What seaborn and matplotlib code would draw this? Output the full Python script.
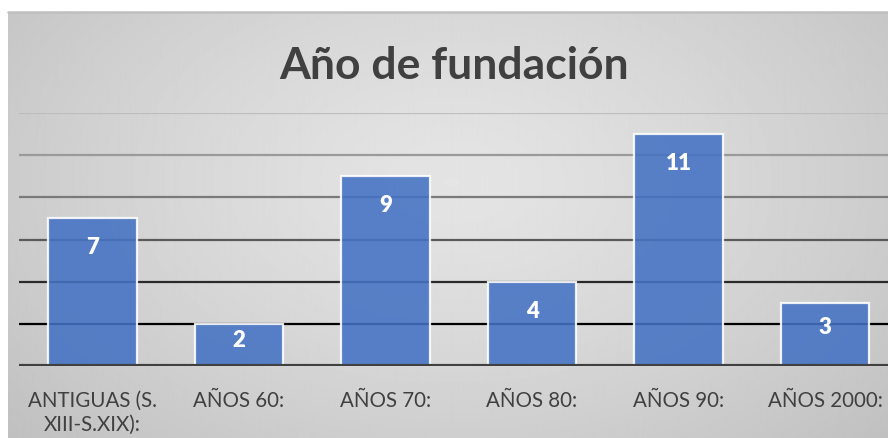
import numpy as np
import pandas as pd
import seaborn as sns
import matplotlib.pyplot as plt

categorias = ['ANTIGUAS (S.\nXIII-S.XIX):', 'AÑOS 60:', 'AÑOS 70:',
              'AÑOS 80:', 'AÑOS 90:', 'AÑOS 2000:']
valores = [7, 2, 9, 4, 11, 3]
rejilla = [2, 4, 6, 8, 10, 12]
colores_rejilla = ['#000000', '#2a2a2a', '#5a5a5a', '#7a7a7a', '#9a9a9a', '#bdbdbd']


def main():
    sns.set_style('white')
    plt.rcParams['font.family'] = ['Lato', 'DejaVu Sans']
    W, H = 888, 439
    fig = plt.figure(figsize=(W / 100, H / 100), dpi=100)

    # fondo con degradado radial
    bg = fig.add_axes([8 / W, 0, 1, (H - 13) / H])
    yy, xx = np.mgrid[0:426, 0:880]
    r = np.sqrt(((xx - 440) / 520) ** 2 + ((yy - 170) / 330) ** 2)
    grad = np.clip(0.895 - 0.12 * r ** 1.3, 0.75, 0.9)
    bg.imshow(grad, cmap='gray', vmin=0, vmax=1, aspect='auto',
              interpolation='bilinear')
    bg.set_axis_off()
    fig.add_artist(plt.Line2D([8 / W, 1], [(H - 13) / H] * 2,
                              color='#bfbfbf', lw=1.8))

    df = pd.DataFrame({'cat': categorias, 'val': valores})
    ax = fig.add_axes([19.25 / W, (H - 367) / H, 879 / W, 253 / H])
    ax.set_facecolor('none')
    for g, c in zip(rejilla, colores_rejilla):
        ax.axhline(g, color=c, lw=1.6, zorder=0)
    sns.barplot(data=df, x='cat', y='val', color='#4472c4', alpha=0.88,
                saturation=1, edgecolor='white', linewidth=1.6,
                width=0.607, ax=ax, zorder=2)
    ax.axhline(0, color='#404040', lw=3, zorder=3)
    ax.set_ylim(0, 12)
    ax.set_xlim(-0.5, len(categorias) - 0.5)
    ax.set_yticks([])
    ax.set_xlabel('')
    ax.set_ylabel('')
    sns.despine(ax=ax, left=True, bottom=True)
    ax.tick_params(axis='x', length=0, pad=17, labelsize=14.8,
                   labelcolor='#404040')
    for t in ax.get_xticklabels():
        t.set_linespacing(1.25)

    for i, v in enumerate(valores):
        ax.text(i, v - min(1.35, 0.38 * v), str(v), ha='center',
                va='center', color='white', fontsize=16,
                fontweight='heavy', zorder=4)

    fig.text(454 / W, (H - 79) / H, 'Año de fundación', ha='center',
             va='baseline', fontsize=32, fontweight='bold', color='#404040')

    fig.savefig('out.png', dpi=100)


if __name__ == '__main__':
    main()
